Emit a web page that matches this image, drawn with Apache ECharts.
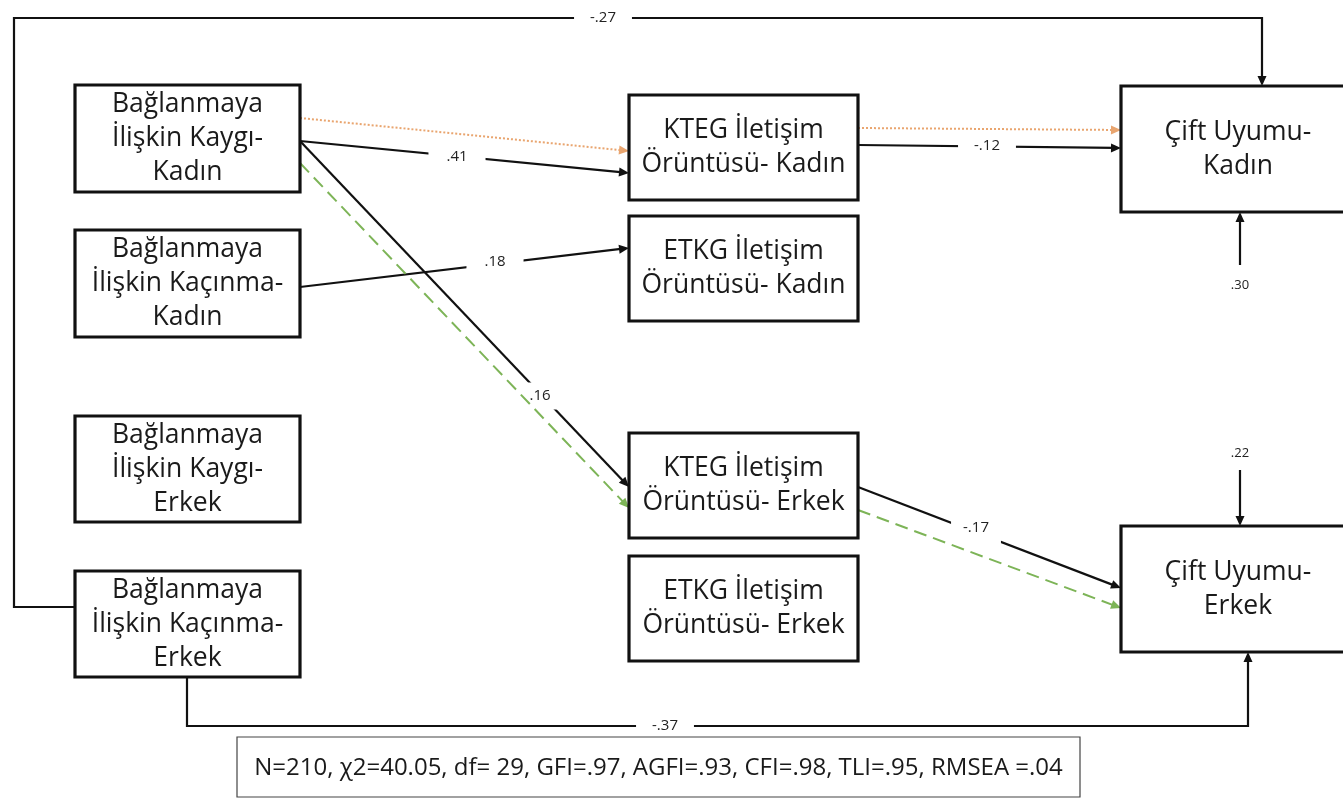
<!DOCTYPE html>
<html>
<head>
<meta charset="utf-8">
<script src="https://cdn.jsdelivr.net/npm/echarts@6/dist/echarts.min.js"></script>
<style>html,body{margin:0;padding:0;background:#fff;overflow:hidden}#c{width:1343px;height:798px}</style>
</head>
<body>
<div id="c"></div>
<script>
// ---------- data ----------
const nodeLabels = [
  'Bağlanmaya\nİlişkin Kaygı-\nKadın',
  'Bağlanmaya\nİlişkin Kaçınma-\nKadın',
  'Bağlanmaya\nİlişkin Kaygı-\nErkek',
  'Bağlanmaya\nİlişkin Kaçınma-\nErkek',
  'KTEG İletişim\nÖrüntüsü- Kadın',
  'ETKG İletişim\nÖrüntüsü- Kadın',
  'KTEG İletişim\nÖrüntüsü- Erkek',
  'ETKG İletişim\nÖrüntüsü- Erkek',
  'Çift Uyumu-\nKadın',
  'Çift Uyumu-\nErkek'
];
const pathFrom = [3, 3, 0, 1, 0, 4, 6];
const pathTo   = [8, 9, 4, 5, 6, 8, 9];
const pathCoef = ['-.27', '-.37', '.41', '.18', '.16', '-.12', '-.17'];
const mediationChains = [[0, 4, 8], [0, 6, 9]];
const residualNodes = [8, 9];
const residualValues = ['.30', '.22'];
const fitText = 'N=210, χ2=40.05, df= 29, GFI=.97, AGFI=.93, CFI=.98, TLI=.95, RMSEA =.04';

// ---------- layout (diagram coordinates) ----------
const boxRect = [
  [75, 85, 300, 192], [75, 230, 300, 337], [75, 416, 300, 522], [75, 571, 300, 677],
  [629, 95, 858, 200], [629, 216, 858, 321], [629, 433, 858, 538], [629, 556, 858, 661],
  [1121, 86, 1355, 212], [1121, 526, 1355, 652]
];
const pathRoute = [
  [[75, 607], [14, 607], [14, 18], [1262, 18], [1262, 86]],
  [[187, 677], [187, 726], [1248, 726], [1248, 652]],
  [[300, 141], [629, 173]],
  [[300, 287], [629, 248]],
  [[300, 141], [629, 487]],
  [[858, 145], [1121, 148]],
  [[858, 487], [1121, 588]]
];
const pathLabelAt = [[603, 18], [665, 726], [457, 157], [495, 262], [540, 396], [987, 146], [976, 528]];
const pathLabelPad = [[2, 16], [2, 16], [2, 18], [2, 18], [6, 8], [2, 16], [8, 12]];
const mediationRoute = [
  [[[300, 118], [629, 151]], [[858, 128], [1121, 130]]],
  [[[300, 163], [629, 508]], [[858, 510], [1121, 608]]]
];
const mediationStyle = [
  {color: '#E9A56F', dash: [2, 2]},
  {color: '#7DB457', dash: [13, 7]}
];
const residualRoute = [[[1240, 265], [1240, 212]], [[1240, 470], [1240, 526]]];
const residualLabelAt = [[1240, 285], [1240, 453]];
const fitRect = [237, 737, 1080, 797];

const BOX_FONT = '26.5px "Open Sans", sans-serif';
const chart = echarts.init(document.getElementById('c'), null, {renderer: 'canvas'});

function arrowHead(p, q, color, len, half) {
  const dx = q[0] - p[0], dy = q[1] - p[1];
  const d = Math.sqrt(dx * dx + dy * dy) || 1;
  const ux = dx / d, uy = dy / d;
  const bx = q[0] - ux * len, by = q[1] - uy * len;
  return {type: 'polygon', shape: {points: [q, [bx - uy * half, by + ux * half], [bx + uy * half, by - ux * half]]},
    style: {fill: color}, z2: 5};
}
function routeEls(api, pts, color, width, dash) {
  const c = pts.map(function (p) { return api.coord(p); });
  const n = c.length;
  const last = c[n - 1], prev = c[n - 2];
  const dx = last[0] - prev[0], dy = last[1] - prev[1];
  const d = Math.sqrt(dx * dx + dy * dy) || 1;
  const lineEnd = [last[0] - dx / d * 6, last[1] - dy / d * 6];
  const linePts = c.slice(0, n - 1).concat([lineEnd]);
  return [
    {type: 'polyline', shape: {points: linePts}, style: {stroke: color, lineWidth: width, lineDash: dash || null, fill: null}, z2: 2},
    arrowHead(prev, last, color, 10, 4.5)
  ];
}

const option = {
  animation: false,
  backgroundColor: '#ffffff',
  grid: {left: 0, right: 0, top: 0, bottom: 0},
  xAxis: {type: 'value', min: 0, max: 1343, show: false},
  yAxis: {type: 'value', min: 0, max: 798, inverse: true, show: false},
  series: [
    {
      type: 'custom', name: 'paths', clip: false, z: 2,
      data: pathCoef.map(function (v, i) { return [i]; }),
      renderItem: function (params, api) {
        const i = api.value(0);
        const els = routeEls(api, pathRoute[i], '#111', 2.2);
        const lp = api.coord(pathLabelAt[i]);
        els.push({type: 'text', x: lp[0], y: lp[1], z2: 4,
          style: {text: pathCoef[i], fill: '#222', font: '15px "Open Sans", sans-serif', align: 'center', verticalAlign: 'middle',
            backgroundColor: '#fff', padding: pathLabelPad[i]}});
        return {type: 'group', children: els};
      }
    },
    {
      type: 'custom', name: 'mediation', clip: false, z: 3,
      data: mediationChains.map(function (c, i) { return [i]; }),
      renderItem: function (params, api) {
        const i = api.value(0);
        const s = mediationStyle[i];
        let els = [];
        mediationRoute[i].forEach(function (seg) { els = els.concat(routeEls(api, seg, s.color, 2, s.dash)); });
        return {type: 'group', children: els};
      }
    },
    {
      type: 'custom', name: 'residuals', clip: false, z: 2,
      data: residualNodes.map(function (n, i) { return [i]; }),
      renderItem: function (params, api) {
        const i = api.value(0);
        const els = routeEls(api, residualRoute[i], '#111', 2.2);
        const lp = api.coord(residualLabelAt[i]);
        els.push({type: 'text', x: lp[0], y: lp[1], style: {text: residualValues[i], fill: '#222', font: '13px "Open Sans", sans-serif', align: 'center', verticalAlign: 'middle'}});
        return {type: 'group', children: els};
      }
    },
    {
      type: 'custom', name: 'boxes', clip: false, z: 5,
      data: nodeLabels.map(function (l, i) { return [i]; }),
      renderItem: function (params, api) {
        const i = api.value(0);
        const b = boxRect[i];
        const p0 = api.coord([b[0], b[1]]), p1 = api.coord([b[2], b[3]]);
        return {type: 'group', children: [
          {type: 'rect', shape: {x: p0[0], y: p0[1], width: p1[0] - p0[0], height: p1[1] - p0[1]},
            style: {fill: '#fff', stroke: '#111', lineWidth: 3.2}},
          {type: 'text', x: (p0[0] + p1[0]) / 2, y: (p0[1] + p1[1]) / 2,
            style: {text: nodeLabels[i], fill: '#1a1a1a', font: BOX_FONT, align: 'center', verticalAlign: 'middle', lineHeight: 34}}
        ]};
      }
    },
    {
      type: 'custom', name: 'fit', clip: false, z: 5,
      data: [[0]],
      renderItem: function (params, api) {
        const p0 = api.coord([fitRect[0], fitRect[1]]), p1 = api.coord([fitRect[2], fitRect[3]]);
        return {type: 'group', children: [
          {type: 'rect', shape: {x: p0[0], y: p0[1], width: p1[0] - p0[0], height: p1[1] - p0[1]},
            style: {fill: '#fff', stroke: '#444', lineWidth: 1.2}},
          {type: 'text', x: (p0[0] + p1[0]) / 2, y: (p0[1] + p1[1]) / 2 + 1,
            style: {text: fitText, fill: '#1a1a1a', font: '24px "Open Sans", sans-serif', align: 'center', verticalAlign: 'middle'}}
        ]};
      }
    }
  ]
};
chart.setOption(option);
</script>
</body>
</html>
